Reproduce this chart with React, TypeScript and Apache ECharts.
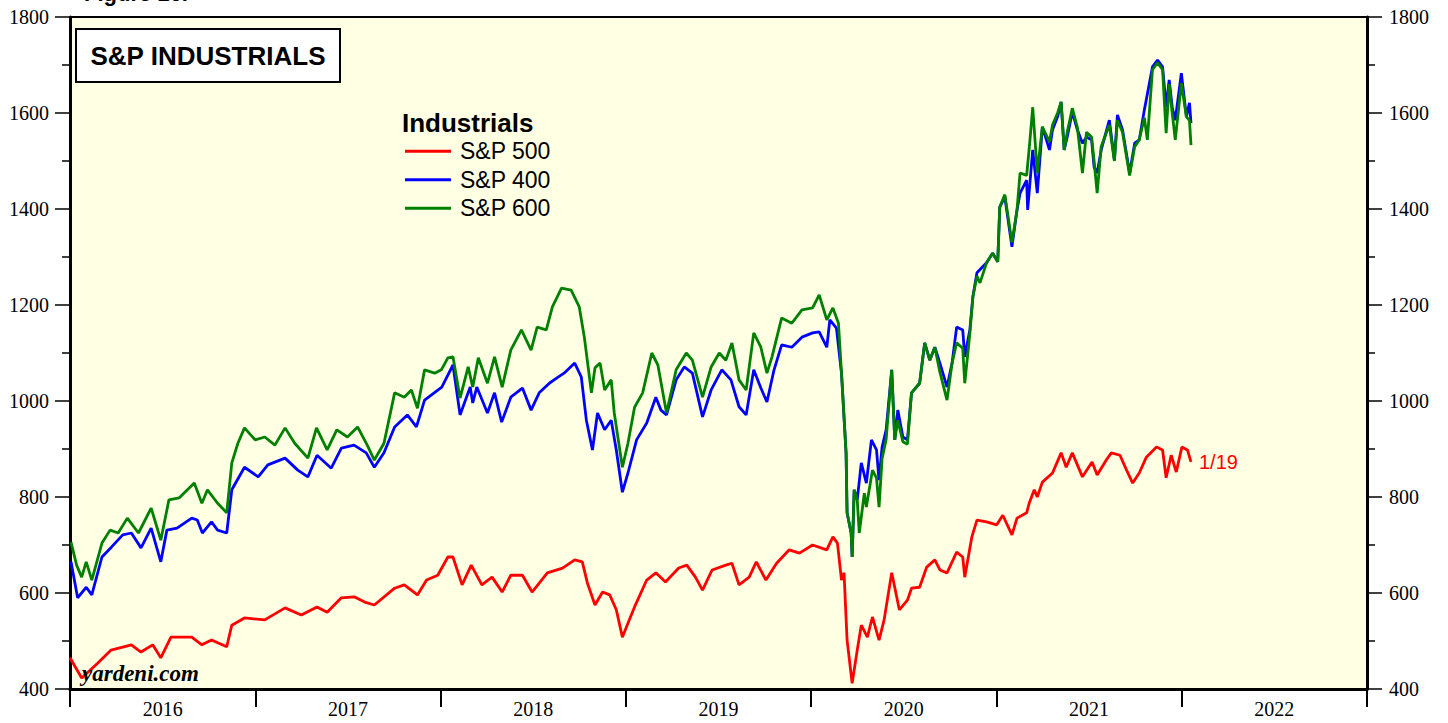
import React, { useEffect, useRef } from "react";
import * as echarts from "echarts";

const yearLabels = ["2016", "2017", "2018", "2019", "2020", "2021", "2022"];
const yTicks = { min: 400, max: 1800, step: 200 };
const seriesNames = ["S&P 500", "S&P 400", "S&P 600"];
const lastDateLabel = "1/19";

const sp500: [string, number][] = [
  ["2016-01-01", 465], ["2016-01-24", 423], ["2016-02-25", 454], ["2016-03-22", 481], ["2016-05-01", 492],
  ["2016-05-20", 477], ["2016-06-12", 492], ["2016-06-28", 465], ["2016-07-18", 508], ["2016-08-28", 508],
  ["2016-09-17", 492], ["2016-10-06", 502], ["2016-11-05", 488], ["2016-11-15", 533], ["2016-12-10", 548],
  ["2017-01-19", 544], ["2017-02-28", 569], ["2017-04-01", 554], ["2017-05-02", 571], ["2017-05-22", 560],
  ["2017-06-19", 590], ["2017-07-14", 592], ["2017-08-04", 581], ["2017-08-23", 575], ["2017-10-02", 610],
  ["2017-10-21", 617], ["2017-11-16", 596], ["2017-12-04", 627], ["2017-12-26", 637],
  ["2018-01-15", 675], ["2018-01-25", 675], ["2018-02-12", 617], ["2018-03-02", 658], ["2018-03-23", 617],
  ["2018-04-12", 633], ["2018-05-02", 602], ["2018-05-19", 637], ["2018-06-11", 637], ["2018-06-30", 602],
  ["2018-07-30", 642], ["2018-08-29", 652], ["2018-09-22", 669], ["2018-10-07", 665], ["2018-10-17", 621],
  ["2018-11-01", 575], ["2018-11-16", 602], ["2018-11-30", 596], ["2018-12-13", 565], ["2018-12-25", 508],
  ["2019-01-05", 537], ["2019-01-18", 571], ["2019-02-11", 627], ["2019-03-01", 642], ["2019-03-20", 623],
  ["2019-04-15", 652], ["2019-05-01", 658], ["2019-05-18", 633], ["2019-06-01", 606], ["2019-06-20", 648],
  ["2019-07-17", 658], ["2019-07-29", 662], ["2019-08-12", 617], ["2019-09-01", 633], ["2019-09-15", 665],
  ["2019-10-04", 627], ["2019-10-25", 662], ["2019-11-19", 690], ["2019-12-09", 683],
  ["2020-01-04", 700], ["2020-02-01", 690], ["2020-02-13", 717], ["2020-02-22", 704], ["2020-03-01", 627],
  ["2020-03-06", 642], ["2020-03-12", 502], ["2020-03-22", 412], ["2020-04-01", 481], ["2020-04-09", 533],
  ["2020-04-21", 508], ["2020-05-01", 550], ["2020-05-14", 502], ["2020-05-24", 544], ["2020-06-08", 642],
  ["2020-06-23", 565], ["2020-07-09", 585], ["2020-07-17", 610], ["2020-08-02", 612], ["2020-08-16", 654],
  ["2020-09-01", 669], ["2020-09-11", 648], ["2020-09-25", 642], ["2020-10-14", 685], ["2020-10-26", 675],
  ["2020-10-30", 633], ["2020-11-13", 717], ["2020-11-23", 752], ["2020-12-12", 748],
  ["2021-01-01", 742], ["2021-01-13", 762], ["2021-01-31", 721], ["2021-02-10", 756], ["2021-03-01", 767],
  ["2021-03-06", 787], ["2021-03-16", 815], ["2021-03-22", 800], ["2021-04-01", 831], ["2021-04-21", 850],
  ["2021-05-08", 892], ["2021-05-18", 862], ["2021-05-30", 892], ["2021-06-19", 842], ["2021-07-08", 873],
  ["2021-07-18", 846], ["2021-08-05", 877], ["2021-08-15", 892], ["2021-09-01", 887], ["2021-09-14", 856],
  ["2021-09-26", 829], ["2021-10-09", 850], ["2021-10-23", 883], ["2021-11-12", 904], ["2021-11-24", 898],
  ["2021-12-01", 840], ["2021-12-11", 887], ["2021-12-21", 852],
  ["2022-01-01", 904], ["2022-01-12", 898], ["2022-01-19", 873],
];

const sp400: [string, number][] = [
  ["2016-01-03", 665], ["2016-01-16", 590], ["2016-02-02", 612], ["2016-02-13", 596], ["2016-03-04", 675],
  ["2016-03-23", 696], ["2016-04-14", 721], ["2016-05-01", 725], ["2016-05-20", 694], ["2016-06-09", 735],
  ["2016-06-28", 665], ["2016-07-10", 731], ["2016-07-30", 735], ["2016-08-28", 756], ["2016-09-08", 752],
  ["2016-09-18", 725], ["2016-10-06", 748], ["2016-10-18", 731], ["2016-11-05", 725], ["2016-11-15", 815],
  ["2016-12-10", 862],
  ["2017-01-06", 842], ["2017-01-25", 867], ["2017-02-28", 881], ["2017-03-25", 856], ["2017-04-14", 842],
  ["2017-05-02", 887], ["2017-05-30", 860], ["2017-06-19", 902], ["2017-07-14", 908], ["2017-08-07", 892],
  ["2017-08-23", 862], ["2017-09-11", 892], ["2017-10-02", 946], ["2017-10-27", 971], ["2017-11-14", 946],
  ["2017-11-30", 1002],
  ["2018-01-03", 1029], ["2018-01-25", 1075], ["2018-02-08", 971], ["2018-02-28", 1029], ["2018-03-05", 996],
  ["2018-03-13", 1029], ["2018-04-03", 975], ["2018-04-17", 1017], ["2018-05-01", 956], ["2018-05-19", 1008],
  ["2018-06-11", 1027], ["2018-06-28", 981], ["2018-07-14", 1017], ["2018-08-03", 1037], ["2018-08-18", 1048],
  ["2018-09-01", 1058], ["2018-09-22", 1079], ["2018-10-05", 1050], ["2018-10-15", 960], ["2018-10-27", 898],
  ["2018-11-06", 975], ["2018-11-20", 940], ["2018-12-03", 960], ["2018-12-13", 898], ["2018-12-25", 810],
  ["2019-01-05", 850], ["2019-01-22", 919], ["2019-02-11", 954], ["2019-03-01", 1008], ["2019-03-11", 981],
  ["2019-03-22", 971], ["2019-04-10", 1044], ["2019-04-26", 1071], ["2019-05-12", 1058], ["2019-06-01", 967],
  ["2019-06-18", 1023], ["2019-07-09", 1065], ["2019-07-27", 1044], ["2019-08-12", 988], ["2019-08-26", 971],
  ["2019-09-10", 1065], ["2019-09-24", 1027], ["2019-10-06", 998], ["2019-10-20", 1065], ["2019-11-04", 1117],
  ["2019-11-24", 1112], ["2019-12-14", 1133],
  ["2020-01-04", 1142], ["2020-01-17", 1144], ["2020-02-01", 1112], ["2020-02-07", 1169], ["2020-02-20", 1152],
  ["2020-03-01", 1058], ["2020-03-10", 892], ["2020-03-12", 767], ["2020-03-20", 725], ["2020-03-22", 675],
  ["2020-03-26", 815], ["2020-04-01", 794], ["2020-04-09", 871], ["2020-04-19", 829], ["2020-04-29", 919],
  ["2020-05-09", 898], ["2020-05-14", 835], ["2020-05-20", 904], ["2020-05-28", 940], ["2020-06-08", 1065],
  ["2020-06-14", 919], ["2020-06-20", 981], ["2020-06-30", 925], ["2020-07-09", 919], ["2020-07-17", 1017],
  ["2020-08-02", 1037], ["2020-08-12", 1121], ["2020-08-22", 1085], ["2020-09-01", 1112], ["2020-09-11", 1079],
  ["2020-09-25", 1029], ["2020-10-05", 1079], ["2020-10-14", 1154], ["2020-10-26", 1148], ["2020-10-30", 1092],
  ["2020-11-09", 1148], ["2020-11-15", 1217], ["2020-11-23", 1267], ["2020-12-12", 1288], ["2020-12-24", 1308],
  ["2021-01-03", 1290], ["2021-01-07", 1404], ["2021-01-17", 1425], ["2021-01-31", 1321], ["2021-02-10", 1398],
  ["2021-02-16", 1433], ["2021-03-01", 1460], ["2021-03-03", 1398], ["2021-03-13", 1523], ["2021-03-22", 1433],
  ["2021-04-01", 1571], ["2021-04-15", 1523], ["2021-04-21", 1565], ["2021-05-01", 1592], ["2021-05-08", 1623],
  ["2021-05-14", 1523], ["2021-05-20", 1550], ["2021-05-30", 1602], ["2021-06-09", 1565], ["2021-06-19", 1537],
  ["2021-06-27", 1550], ["2021-07-07", 1544], ["2021-07-12", 1487], ["2021-07-18", 1475], ["2021-07-26", 1523],
  ["2021-08-11", 1585], ["2021-08-21", 1502], ["2021-08-27", 1596], ["2021-09-06", 1565], ["2021-09-20", 1475],
  ["2021-09-30", 1537], ["2021-10-09", 1544], ["2021-10-19", 1606], ["2021-11-04", 1696], ["2021-11-14", 1710],
  ["2021-11-24", 1696], ["2021-12-01", 1612], ["2021-12-07", 1669], ["2021-12-13", 1612], ["2021-12-19", 1585],
  ["2021-12-31", 1683],
  ["2022-01-10", 1592], ["2022-01-16", 1621], ["2022-01-19", 1579],
];

const sp600: [string, number][] = [
  ["2016-01-03", 706], ["2016-01-14", 658], ["2016-01-24", 633], ["2016-02-02", 665], ["2016-02-13", 627],
  ["2016-03-04", 704], ["2016-03-20", 731], ["2016-04-05", 725], ["2016-04-23", 756], ["2016-05-15", 725],
  ["2016-06-09", 777], ["2016-06-28", 710], ["2016-07-14", 794], ["2016-08-03", 798], ["2016-09-02", 829],
  ["2016-09-17", 787], ["2016-09-28", 815], ["2016-10-18", 787], ["2016-11-05", 767], ["2016-11-15", 871],
  ["2016-11-27", 912], ["2016-12-10", 944], ["2016-12-31", 919],
  ["2017-01-19", 925], ["2017-02-08", 908], ["2017-02-28", 944], ["2017-03-19", 912], ["2017-04-14", 881],
  ["2017-05-01", 944], ["2017-05-22", 898], ["2017-06-10", 940], ["2017-07-01", 925], ["2017-07-21", 946],
  ["2017-08-09", 908], ["2017-08-23", 877], ["2017-09-11", 912], ["2017-10-02", 1017], ["2017-10-21", 1008],
  ["2017-11-04", 1023], ["2017-11-16", 985], ["2017-11-30", 1065], ["2017-12-20", 1058],
  ["2018-01-02", 1065], ["2018-01-15", 1090], ["2018-01-25", 1092], ["2018-02-08", 1006], ["2018-02-24", 1071],
  ["2018-03-05", 1029], ["2018-03-16", 1090], ["2018-04-03", 1037], ["2018-04-17", 1092], ["2018-05-02", 1029],
  ["2018-05-19", 1106], ["2018-06-09", 1148], ["2018-06-28", 1106], ["2018-07-10", 1154], ["2018-07-28", 1148],
  ["2018-08-09", 1196], ["2018-08-27", 1235], ["2018-09-15", 1231], ["2018-10-01", 1196], ["2018-10-11", 1133],
  ["2018-10-25", 1017], ["2018-11-01", 1069], ["2018-11-11", 1079], ["2018-11-20", 1023], ["2018-12-03", 1044],
  ["2018-12-09", 975], ["2018-12-25", 862],
  ["2019-01-05", 912], ["2019-01-18", 987], ["2019-02-03", 1017], ["2019-02-21", 1100], ["2019-03-05", 1075],
  ["2019-03-22", 975], ["2019-04-10", 1065], ["2019-04-30", 1100], ["2019-05-12", 1085], ["2019-06-01", 1008],
  ["2019-06-18", 1071], ["2019-07-04", 1100], ["2019-07-17", 1085], ["2019-07-29", 1121], ["2019-08-12", 1044],
  ["2019-08-26", 1023], ["2019-09-10", 1142], ["2019-09-24", 1112], ["2019-10-06", 1058], ["2019-10-16", 1092],
  ["2019-11-04", 1173], ["2019-11-24", 1162], ["2019-12-14", 1190],
  ["2020-01-04", 1194], ["2020-01-17", 1221], ["2020-02-01", 1169], ["2020-02-13", 1194], ["2020-02-24", 1162],
  ["2020-03-01", 1058], ["2020-03-10", 892], ["2020-03-12", 767], ["2020-03-20", 725], ["2020-03-22", 675],
  ["2020-03-26", 815], ["2020-04-01", 794], ["2020-04-05", 725], ["2020-04-15", 808], ["2020-04-19", 779],
  ["2020-05-01", 856], ["2020-05-09", 840], ["2020-05-14", 779], ["2020-05-20", 880], ["2020-05-28", 920],
  ["2020-06-08", 1065], ["2020-06-14", 919], ["2020-06-20", 960], ["2020-06-30", 915], ["2020-07-09", 910],
  ["2020-07-17", 1017], ["2020-08-02", 1037], ["2020-08-12", 1121], ["2020-08-22", 1085], ["2020-09-01", 1112],
  ["2020-09-11", 1060], ["2020-09-25", 1002], ["2020-10-05", 1079], ["2020-10-14", 1121], ["2020-10-26", 1110],
  ["2020-10-30", 1037], ["2020-11-09", 1140], ["2020-11-15", 1217], ["2020-11-23", 1260], ["2020-11-29", 1246],
  ["2020-12-12", 1288], ["2020-12-24", 1308],
  ["2021-01-03", 1290], ["2021-01-07", 1404], ["2021-01-17", 1430], ["2021-01-31", 1330], ["2021-02-10", 1398],
  ["2021-02-16", 1475], ["2021-03-01", 1470], ["2021-03-07", 1537], ["2021-03-13", 1612], ["2021-03-22", 1475],
  ["2021-04-01", 1571], ["2021-04-15", 1540], ["2021-04-21", 1575], ["2021-05-01", 1600], ["2021-05-08", 1623],
  ["2021-05-14", 1523], ["2021-05-20", 1560], ["2021-05-30", 1610], ["2021-06-09", 1570], ["2021-06-19", 1475],
  ["2021-06-27", 1560], ["2021-07-07", 1550], ["2021-07-12", 1500], ["2021-07-18", 1433], ["2021-07-26", 1530],
  ["2021-08-11", 1575], ["2021-08-21", 1500], ["2021-08-27", 1585], ["2021-09-06", 1560], ["2021-09-20", 1470],
  ["2021-09-30", 1530], ["2021-10-09", 1544], ["2021-10-19", 1590], ["2021-10-25", 1544], ["2021-11-04", 1690],
  ["2021-11-14", 1705], ["2021-11-24", 1690], ["2021-12-01", 1558], ["2021-12-07", 1660], ["2021-12-13", 1600],
  ["2021-12-19", 1544], ["2021-12-31", 1662],
  ["2022-01-10", 1592], ["2022-01-16", 1585], ["2022-01-19", 1533],
];

const seriesData = [sp500, sp400, sp600];
const seriesColors = ["#ff0000", "#0000ff", "#008000"];

const SERIF = "'Liberation Serif', 'Times New Roman', serif";
const SANS = "'Liberation Sans', Arial, sans-serif";

function yAxis(position: "left" | "right", margin: number) {
  return {
    type: "value",
    position,
    min: yTicks.min,
    max: yTicks.max,
    interval: yTicks.step,
    axisLine: { show: true, lineStyle: { color: "#000", width: 3 } },
    axisTick: { show: true, inside: false, length: 15, lineStyle: { color: "#000", width: 1.5 } },
    minorTick: { show: true, splitNumber: 2, length: 8, lineStyle: { color: "#000", width: 1.5 } },
    splitLine: { show: false },
    minorSplitLine: { show: false },
    axisLabel: {
      margin,
      fontSize: 20,
      fontFamily: SERIF,
      color: "#000",
      formatter: (v: number) => String(v),
    },
  };
}

export default function App() {
  const ref = useRef<HTMLDivElement>(null);
  useEffect(() => {
    if (!ref.current) return;
    const chart = echarts.init(ref.current, null, { renderer: "svg" });
    const option: any = {
      animation: false,
      backgroundColor: "#ffffff",
      grid: {
        left: 70,
        right: 81,
        top: 17,
        bottom: 34,
        show: true,
        backgroundColor: "#ffffe4",
        borderColor: "#000",
        borderWidth: 2,
      },
      xAxis: [
        {
          type: "time",
          min: new Date(2016, 0, 1).getTime(),
          max: new Date(2023, 0, 1).getTime(),
          show: false,
          splitLine: { show: false },
        },
        {
          type: "category",
          data: yearLabels,
          position: "bottom",
          boundaryGap: true,
          axisLine: { show: true, lineStyle: { color: "#000", width: 3 } },
          axisTick: { show: true, interval: 0, length: 18, alignWithLabel: false, lineStyle: { color: "#000", width: 2 } },
          axisLabel: { interval: 0, margin: 10, fontSize: 20, fontFamily: SERIF, color: "#000" },
          splitLine: { show: false },
        },
      ],
      yAxis: [yAxis("left", 21), yAxis("right", 22)],
      legend: {
        data: seriesNames,
        orient: "vertical",
        left: 400,
        top: 132,
        icon: "rect",
        itemWidth: 46,
        itemHeight: 3,
        itemGap: 0,
        selectedMode: false,
        textStyle: { fontSize: 23, fontFamily: SANS, color: "#000", lineHeight: 28.5, padding: [0, 0, 0, 4] },
      },
      series: seriesNames.map((name, i) => ({
        name,
        type: "line",
        xAxisIndex: 0,
        yAxisIndex: 0,
        data: seriesData[i],
        showSymbol: false,
        symbol: "none",
        silent: true,
        color: seriesColors[i],
        lineStyle: { color: seriesColors[i], width: 2.8 },
        z: 2 + i,
        endLabel:
          i === 0
            ? { show: true, formatter: lastDateLabel, color: "#ff0000", fontSize: 20, fontFamily: SANS, distance: 8 }
            : { show: false },
      })),
      graphic: [
        {
          type: "text",
          left: 84,
          top: -18,
          style: { text: "Figure 16.", font: `bold 22px ${SANS}`, fill: "#000" },
        },
        {
          type: "group",
          left: 75,
          top: 28,
          children: [
            { type: "rect", shape: { x: 0, y: 0, width: 264, height: 53 }, style: { fill: "#fff", stroke: "#000", lineWidth: 2 } },
            {
              type: "text",
              x: 132,
              y: 27,
              style: { text: "S&P INDUSTRIALS", font: `bold 26px ${SANS}`, fill: "#000", align: "center", verticalAlign: "middle" },
            },
          ],
        },
        {
          type: "text",
          x: 402,
          y: 123,
          style: { text: "Industrials", font: `bold 26px ${SANS}`, fill: "#000", verticalAlign: "middle" },
        },
        {
          type: "text",
          x: 82,
          y: 673,
          z: 10,
          style: { text: "yardeni.com", font: `italic bold 23px ${SERIF}`, fill: "#000", verticalAlign: "middle" },
        },
      ],
    };
    chart.setOption(option);
    return () => chart.dispose();
  }, []);
  return <div ref={ref} style={{ position: "fixed", left: 0, top: 0, width: 1448, height: 723 }} />;
}
